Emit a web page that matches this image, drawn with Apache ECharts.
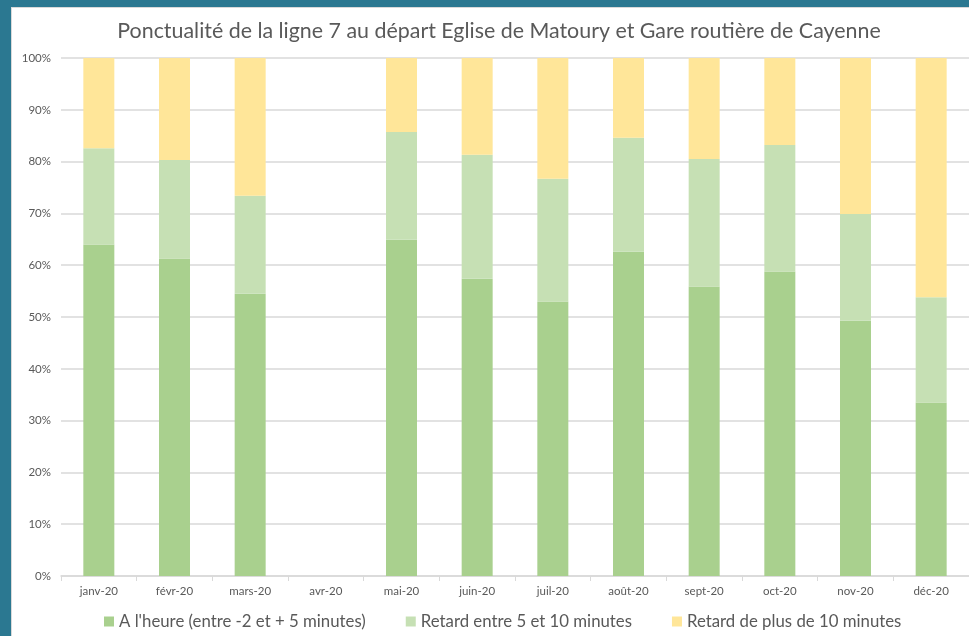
<!DOCTYPE html>
<html>
<head>
<meta charset="utf-8">
<script src="https://cdn.jsdelivr.net/npm/echarts@6/dist/echarts.min.js"></script>
<style>
  html, body { margin: 0; padding: 0; }
  body { width: 969px; height: 636px; background: #2b7891; position: relative; overflow: hidden; }
  #chart { position: absolute; left: 11px; top: 7px; width: 958px; height: 629px; background: #fff; border-left: 1px solid #d9d9d9; border-top: 1px solid #d9d9d9; box-sizing: border-box; }
</style>
</head>
<body>
<div id="chart"></div>
<script>
// mois
const months = ['janv-20', 'févr-20', 'mars-20', 'avr-20', 'mai-20', 'juin-20', 'juil-20', 'août-20', 'sept-20', 'oct-20', 'nov-20', 'déc-20']

// parts en %
const aLheure = [64.0, 61.3, 54.5, null, 64.9, 57.4, 53.0, 62.6, 55.9, 58.8, 49.3, 33.5]
const retard5a10 = [18.6, 19.0, 18.9, null, 20.8, 23.9, 23.7, 22.0, 24.6, 24.4, 20.6, 20.3]
const retardPlus10 = [17.4, 19.7, 26.6, null, 14.3, 18.7, 23.3, 15.4, 19.5, 16.8, 30.1, 46.2]

const yTicks = [0, 10, 20, 30, 40, 50, 60, 70, 80, 90, 100]

const seriesNames = ['A l\'heure (entre -2 et + 5 minutes)', 'Retard entre 5 et 10 minutes', 'Retard de plus de 10 minutes']
const colors = ['#a9d08e', '#c6e0b4', '#ffe699']

const font = 'Lato, "Open Sans", sans-serif'
const textColor = '#595959'

const chart = echarts.init(document.getElementById('chart'))

const makeSeries = (name, data, color) => ({
  name,
  type: 'bar',
  stack: 'total',
  barWidth: 31,
  data,
  itemStyle: { color },
  emphasis: { disabled: true }
})

chart.setOption({
  animation: false,
  textStyle: { fontFamily: font },
  title: {
    text: 'Ponctualité de la ligne 7 au départ Eglise de Matoury et Gare routière de Cayenne',
    left: 482,
    textAlign: 'center',
    top: 8,
    textStyle: { color: textColor, fontSize: 21.4, fontWeight: 'normal', fontFamily: font }
  },
  grid: { left: 49, right: 0, top: 50, bottom: 60 },
  legend: {
    left: 87,
    top: 600,
    itemWidth: 10,
    itemHeight: 10,
    itemGap: 40,
    icon: 'rect',
    textStyle: { color: textColor, fontSize: 16.8, fontFamily: font },
    data: seriesNames
  },
  xAxis: {
    type: 'category',
    data: months,
    axisLine: { lineStyle: { color: '#d9d9d9', width: 1.5 } },
    axisTick: { show: true, length: 5, lineStyle: { color: '#d9d9d9' } },
    axisLabel: { color: textColor, fontSize: 11.5, margin: 9, fontFamily: font }
  },
  yAxis: {
    type: 'value',
    min: yTicks[0],
    max: yTicks[yTicks.length - 1],
    interval: 10,
    axisLine: { show: false },
    axisTick: { show: false },
    axisLabel: { color: textColor, fontSize: 11.5, margin: 10, formatter: '{value}%', fontFamily: font },
    splitLine: { lineStyle: { color: '#d9d9d9', width: 1.5 } }
  },
  series: [
    makeSeries(seriesNames[0], aLheure, colors[0]),
    makeSeries(seriesNames[1], retard5a10, colors[1]),
    makeSeries(seriesNames[2], retardPlus10, colors[2])
  ]
})
</script>
</body>
</html>
